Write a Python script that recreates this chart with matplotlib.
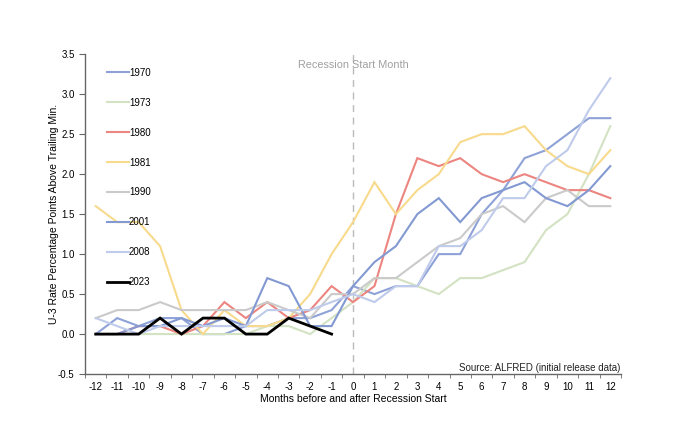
import matplotlib
matplotlib.use("Agg")
import matplotlib.pyplot as plt
import numpy as np

plt.rcParams['font.family'] = ['Liberation Sans', 'DejaVu Sans']

months = list(range(-12, 13))

s1970 = [0, 0.2, 0.1, 0.2, 0.2, 0, 0, 0.1, 0.1, 0.2, 0.2, 0.3, 0.6, 0.5, 0.6, 0.6, 1.0, 1.0, 1.5, 1.8, 2.2, 2.3, 2.5, 2.7, 2.7]
s1973 = [0, 0, 0, 0, 0, 0, 0, 0, 0.1, 0.1, 0, 0.2, 0.4, 0.7, 0.7, 0.6, 0.5, 0.7, 0.7, 0.8, 0.9, 1.3, 1.5, 2.0, 2.6]
s1980 = [0, 0, 0.1, 0.1, 0, 0.1, 0.4, 0.2, 0.4, 0.2, 0.3, 0.6, 0.4, 0.6, 1.5, 2.2, 2.1, 2.2, 2.0, 1.9, 2.0, 1.9, 1.8, 1.8, 1.7]
s1981 = [1.6, 1.4, 1.4, 1.1, 0.3, 0, 0.3, 0.1, 0.1, 0.2, 0.5, 1.0, 1.4, 1.9, 1.5, 1.8, 2.0, 2.4, 2.5, 2.5, 2.6, 2.3, 2.1, 2.0, 2.3]
s1990 = [0.2, 0.3, 0.3, 0.4, 0.3, 0.3, 0.3, 0.3, 0.4, 0.3, 0.2, 0.5, 0.5, 0.7, 0.7, 0.9, 1.1, 1.2, 1.5, 1.6, 1.4, 1.7, 1.8, 1.6, 1.6]
s2001 = [0, 0, 0.1, 0.1, 0.2, 0.1, 0.2, 0.1, 0.7, 0.6, 0.1, 0.1, 0.6, 0.9, 1.1, 1.5, 1.7, 1.4, 1.7, 1.8, 1.9, 1.7, 1.6, 1.8, 2.1]
s2008 = [0.2, 0.1, 0.0, 0.1, 0.1, 0.1, 0.1, 0.1, 0.3, 0.3, 0.3, 0.4, 0.5, 0.4, 0.6, 0.6, 1.1, 1.1, 1.3, 1.7, 1.7, 2.1, 2.3, 2.8, 3.2]
s2023 = [0, 0, 0, 0.2, 0, 0.2, 0.2, 0, 0, 0.2, 0.1, 0]

series = [
    ("1970", s1970, "#8EA2D8", 1.5),
    ("1973", s1973, "#D2E2C2", 1.5),
    ("1980", s1980, "#EC8580", 1.5),
    ("1981", s1981, "#F8DA8C", 1.5),
    ("1990", s1990, "#CACACA", 1.5),
    ("2001", s2001, "#8399D2", 1.5),
    ("2008", s2008, "#BFCBEA", 1.5),
    ("2023", s2023, "#000000", 2.0),
]

fig = plt.figure(figsize=(6.97, 4.37), dpi=100)
ax = fig.add_axes([0.122, 0.144, 0.769, 0.732])

for name, vals, color, lw in series:
    ax.plot(months[:len(vals)], vals, color=color, lw=lw, label=name, solid_joinstyle='miter')

ax.axvline(0, color="#BBBBBB", lw=1.0, ls=(0, (5, 4)), zorder=0)
ax.text(0, 3.36, "Recession Start Month", color="#A0A0A0", fontsize=7.8,
        ha="center", va="center")
ax.text(12.45, -0.42, "Source: ALFRED (initial release data)", color="#222222",
        fontsize=7, ha="right", va="center")

ax.set_xlim(-12.5, 12.5)
ax.set_ylim(-0.5, 3.5)
ax.set_yticks(np.arange(-0.5, 3.51, 0.5))
ax.set_yticklabels([f"{v:.1f}" for v in np.arange(-0.5, 3.51, 0.5)])
ax.set_xticks(months)
ax.set_xticklabels([str(m) for m in months])
ax.set_xticks(np.arange(-12.5, 12.6, 1), minor=True)
ax.tick_params(axis='x', which='major', length=0, pad=6, labelsize=7)
ax.tick_params(axis='x', which='minor', length=3, direction='out', color="#666666")
ax.tick_params(axis='y', which='major', length=4, direction='out', labelsize=7, color="#666666")

for sp in ["top", "right"]:
    ax.spines[sp].set_visible(False)
for sp in ["left", "bottom"]:
    ax.spines[sp].set_color("#666666")
    ax.spines[sp].set_linewidth(1.0)

ax.set_xlabel("Months before and after Recession Start", fontsize=7.5, labelpad=1)
ax.set_ylabel("U-3 Rate Percentage Points Above Trailing Min.", fontsize=7.5, labelpad=-1)

leg = ax.legend(loc="upper left", bbox_to_anchor=(0.025, 0.985), frameon=False,
                fontsize=7, labelspacing=2.05, handlelength=2.2, handletextpad=0.05)

fig.savefig("out.png", dpi=100)
